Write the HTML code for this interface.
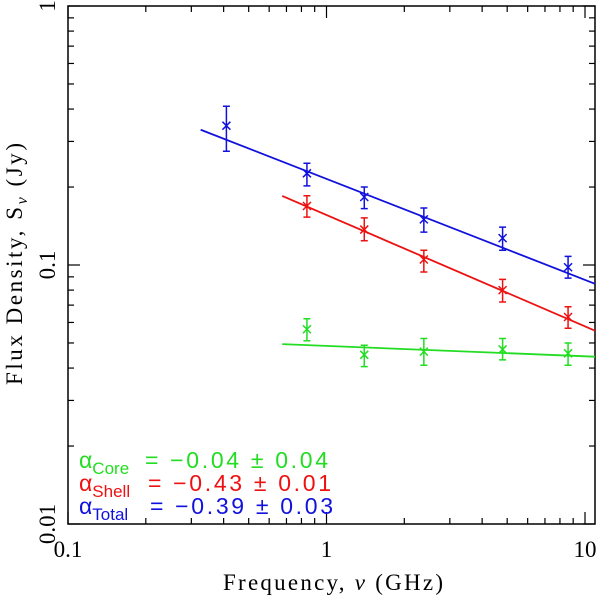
<!DOCTYPE html>
<html><head><meta charset="utf-8"><style>
html,body{margin:0;padding:0;background:#fff;}
svg{display:block;font-family:"Liberation Serif",serif;}
</style></head><body>
<svg id="chart" width="600" height="600" viewBox="0 0 600 600"></svg>
<script>
const freqs = [0.41, 0.84, 1.4, 2.38, 4.8, 8.6];
const totalVals = [0.345, 0.226, 0.183, 0.150, 0.127, 0.098];
const totalLo = [0.275, 0.202, 0.165, 0.134, 0.114, 0.089];
const totalHi = [0.41, 0.247, 0.200, 0.166, 0.140, 0.108];
const shellFreqs = [0.84, 1.4, 2.38, 4.8, 8.6];
const shellVals = [0.169, 0.137, 0.105, 0.080, 0.063];
const shellLo = [0.153, 0.124, 0.094, 0.072, 0.057];
const shellHi = [0.185, 0.152, 0.114, 0.088, 0.069];
const coreFreqs = [0.84, 1.4, 2.38, 4.8, 8.6];
const coreVals = [0.0565, 0.045, 0.0463, 0.0472, 0.0456];
const coreLo = [0.051, 0.0405, 0.041, 0.043, 0.041];
const coreHi = [0.062, 0.049, 0.052, 0.052, 0.050];
const fitAmp = [0.0487, 0.156, 0.215];
const fitSlope = [-0.04, -0.43, -0.39];
const fitStart = [0.674, 0.674, 0.326];
const xTicks = [0.1, 1, 10];
const xTickLabels = ["0.1", "1", "10"];
const yTicks = [0.01, 0.1, 1];
const yTickLabels = ["0.01", "0.1", "1"];

const L=68,R=595,T=6,B=524;
const xDec=258.5,yDec=259;
const X=f=>L+(Math.log10(f)+1)*xDec;
const Y=v=>T-Math.log10(v)*yDec;
const xMax=Math.pow(10,(R-L)/xDec-1);
const svg=document.getElementById('chart');
const NS='http://www.w3.org/2000/svg';
function mk(tag,attrs,parent){const e=document.createElementNS(NS,tag);for(const k in attrs)e.setAttribute(k,attrs[k]);(parent||svg).appendChild(e);return e;}

const frame=mk('rect',{x:L,y:T,width:R-L,height:B-T,fill:'none',stroke:'#000','stroke-width':1.5});



const tg=mk('g',{stroke:'#000','stroke-width':1.2});


for(let d=-1;d<=1;d++){for(let m=1;m<=9;m++){const f=m*Math.pow(10,d);const x=X(f);if(x<L-0.5||x>R)continue;const len=m===1?12:6;
mk('line',{x1:x,y1:B,x2:x,y2:B-len},tg);mk('line',{x1:x,y1:T,x2:x,y2:T+len},tg);}}
for(let d=-2;d<=0;d++){for(let m=1;m<=9;m++){const v=m*Math.pow(10,d);const y=Y(v);if(y<T-0.5||y>B+0.5)continue;const len=m===1?12:6;
mk('line',{x1:L,y1:y,x2:L+len,y2:y},tg);mk('line',{x1:R,y1:y,x2:R-len,y2:y},tg);}}

xTicks.forEach((t,i)=>{const e=mk('text',{x:X(t),y:557,'font-size':23,'text-anchor':'middle',fill:'#000'});e.textContent=xTickLabels[i];

});
yTicks.forEach((t,i)=>{const y=Y(t);const e=mk('text',{x:0,y:0,'font-size':23,'text-anchor':'middle',fill:'#000',transform:`translate(55,${y}) rotate(-90)`});e.textContent=yTickLabels[i];

});

const xt=mk('text',{x:223,y:590,'font-size':23,fill:'#000',textLength:220,lengthAdjust:'spacing'});
xt.innerHTML='Frequency, <tspan font-style="italic">ν</tspan> (GHz)';


const yt=mk('text',{x:0,y:0,'font-size':23,fill:'#000',transform:'translate(22,385) rotate(-90)',textLength:242,lengthAdjust:'spacing'});
yt.innerHTML='Flux Density, S<tspan font-style="italic" font-size="16" dy="5">ν</tspan><tspan dy="-5"> (Jy)</tspan>';



const colors=['#22dd22','#ee1111','#1111dd'];
const names=['core','shell','total'];
for(let i=0;i<3;i++){const f0=fitStart[i],f1=xMax;
const l=mk('line',{x1:X(f0),y1:Y(fitAmp[i]*Math.pow(f0,fitSlope[i])),x2:X(f1),y2:Y(fitAmp[i]*Math.pow(f1,fitSlope[i])),stroke:colors[i],'stroke-width':1.8});

}

function series(fs,vals,lo,hi,col,name){const g=mk('g',{stroke:col,'stroke-width':1.5,fill:'none'});


fs.forEach((f,i)=>{const x=X(f),y=Y(vals[i]),y1=Y(hi[i]),y2=Y(lo[i]);
mk('path',{d:`M${x},${y1}V${y2}M${x-3.5},${y1}H${x+3.5}M${x-3.5},${y2}H${x+3.5}M${x-4},${y-4}L${x+4},${y+4}M${x-4},${y+4}L${x+4},${y-4}`},g);});}
series(coreFreqs,coreVals,coreLo,coreHi,colors[0],'core');
series(shellFreqs,shellVals,shellLo,shellHi,colors[1],'shell');
series(freqs,totalVals,totalLo,totalHi,colors[2],'total');

const legend=[['Core','= −0.04 ±  0.04',145,53],['Shell','= −0.43 ±  0.01',148,56],['Total','= −0.39 ±  0.03',150,57]];
legend.forEach((r,i)=>{const y=468+i*23;
const e=mk('text',{x:79,y:y,'font-size':23,fill:colors[i],'font-family':'Liberation Sans, sans-serif'});
e.innerHTML=`α<tspan font-size="17" dy="6">${r[0]}</tspan>`;


const v=mk('text',{x:r[2],y:y,'font-size':23,fill:colors[i],'font-family':'Liberation Sans, sans-serif','xml:space':'preserve',textLength:183,lengthAdjust:'spacing'});
v.textContent=r[1];

});
</script>
</body></html>
